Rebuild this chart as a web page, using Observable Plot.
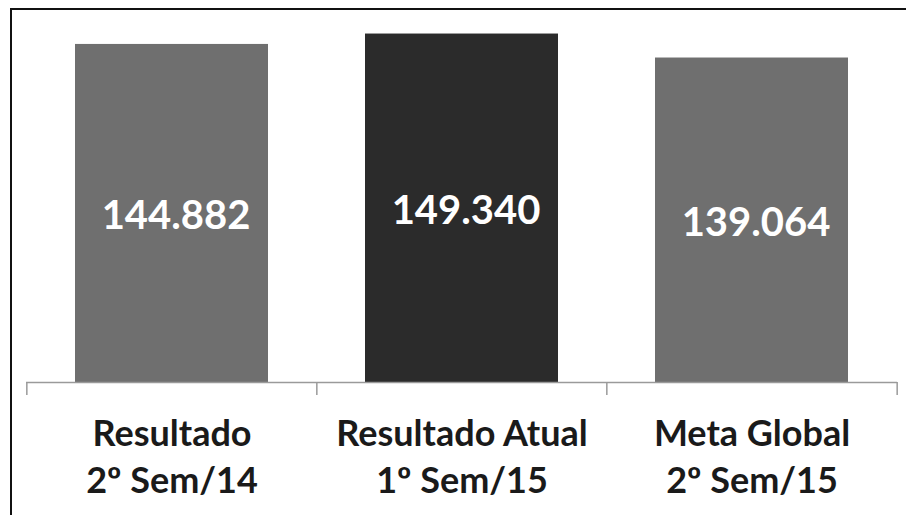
<!DOCTYPE html>
<html>
<head>
<meta charset="utf-8">
<script src="https://cdn.jsdelivr.net/npm/d3@7"></script>
<script src="https://cdn.jsdelivr.net/npm/@observablehq/plot@0.6"></script>
<style>
  html, body { margin: 0; padding: 0; background: #fff; }
  #wrap { position: relative; width: 906px; height: 515px; overflow: hidden; }
  #border { position: absolute; left: 10px; top: 8px; width: 1000px; height: 1000px;
            border-left: 2px solid #111; border-top: 2px solid #111; box-sizing: border-box; pointer-events: none; }
  #wrap svg { position: absolute; left: 0; top: 0; display: block; }
</style>
</head>
<body>
<div id="wrap"><div id="border"></div></div>
<script>
const categories = ["Resultado\n2º Sem/14", "Resultado Atual\n1º Sem/15", "Meta Global\n2º Sem/15"];
const values = [144882, 149340, 139064];
const valueLabels = ["144.882", "149.340", "139.064"];
const barColors = ["#6f6f6f", "#2b2b2b", "#6f6f6f"];

const data = categories.map((c, i) => ({cat: c, value: values[i], label: valueLabels[i], color: barColors[i]}));

const W = 906, H = 515;
const mL = 26, mR = 9, mT = 32, mB = 133;
const step = (W - mL - mR) / categories.length;
const font = "Lato, 'Open Sans', sans-serif";

const chart = Plot.plot({
  width: W,
  height: H,
  marginLeft: mL,
  marginRight: mR,
  marginTop: mT,
  marginBottom: mB,
  style: {fontFamily: font, background: "transparent", overflow: "visible"},
  x: {domain: categories, paddingInner: 0.335, paddingOuter: 0.1675, label: null},
  y: {domain: [0, 150000], axis: null},
  marks: [
    Plot.barY(data, {x: "cat", y: "value", fill: "color"}),
    Plot.ruleY([0], {stroke: "#9a9a9a", strokeWidth: 1.5}),
    Plot.ruleX(categories, {x: d => d, dx: -step / 2, y1: 0, y2: 0, insetBottom: -13, stroke: "#9a9a9a", strokeWidth: 1.5}),
    Plot.ruleX(categories.slice(-1), {x: d => d, dx: step / 2, y1: 0, y2: 0, insetBottom: -13, stroke: "#9a9a9a", strokeWidth: 1.5}),
    Plot.text(data, {x: "cat", y: d => d.value / 2, text: "label", fill: "#fff", fontSize: 40, fontWeight: "bold", dx: 4, dy: 3}),
    Plot.axisX({tickSize: 0, tickPadding: 30, fontSize: 36, lineHeight: 1.3, fontWeight: "bold", color: "#1a1a1a", label: null})
  ]
});
document.getElementById("wrap").insertBefore(chart, document.getElementById("border"));
</script>
</body>
</html>
